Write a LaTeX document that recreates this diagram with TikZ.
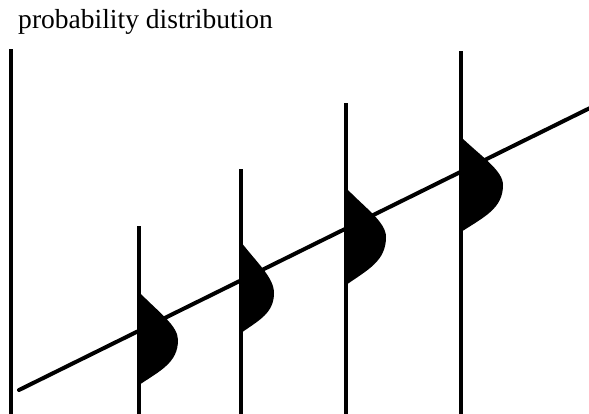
\documentclass[tikz,border=0pt]{standalone}
\usepackage{fontspec}
\setmainfont{Liberation Serif}
\usepackage{tikz}
\usetikzlibrary{calc}

\begin{document}
\begin{tikzpicture}[x=0.03cm,y=-0.03cm]
    \useasboundingbox (0,0) rectangle (589,413);
    \tikzset{axisline/.style={black,line width=3.4pt},
             bell/.style={fill=black,draw=none}}
    \node[anchor=base west, inner sep=0pt, font=\fontsize{23.5}{28}\selectfont] (title) at (18,28) {probability distribution};
    % left axis and the trend line
    \coordinate (axtop) at (11,49);
    \coordinate (axbot) at (11,415);
    \coordinate (trendstart) at (19,390);
    \coordinate (trendend) at (592,107);
    \draw[axisline] (axtop) -- (axbot);
    \draw[axisline, line cap=round] (trendstart) -- (trendend);
    % x, top, bell top, peak, bell bottom, bell width
    \foreach \x/\top/\yt/\yp/\yb/\w [count=\i] in {139/226/292/340/385/39, 241/169/242/293/333/33, 346/103/188/237/285/40, 461/51/137/185/232/42}{
        \coordinate (v\i top) at (\x,\top);
        \coordinate (v\i bot) at (\x,415);
        \draw[axisline] (v\i top) -- (v\i bot);
        \fill[bell] (\x,\yt) .. controls ({\x+0.5*\w},{\yt+0.42*(\yp-\yt)}) and ({\x+\w},{\yp-0.3*(\yp-\yt)}) .. ({\x+\w},\yp)
            .. controls ({\x+\w},{\yp+0.5*(\yb-\yp)}) and ({\x+0.55*\w},{\yb-0.32*(\yb-\yp)}) .. (\x,\yb) -- cycle;
    }
\end{tikzpicture}
\end{document}
